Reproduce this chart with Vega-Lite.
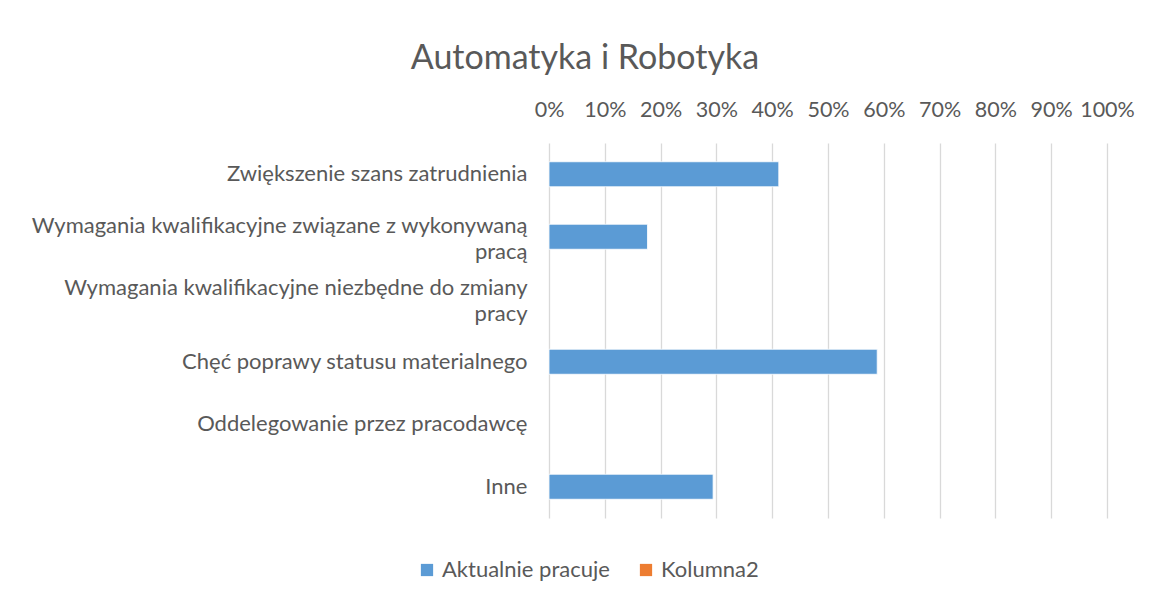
{
  "$schema": "https://vega.github.io/schema/vega-lite/v6.json",
  "autosize": {"type": "none"},
  "padding": {"left": 549, "top": 143, "right": 42, "bottom": 83},
  "width": 558,
  "height": 375,
  "background": "white",
  "title": {
    "text": "Automatyka i Robotyka",
    "font": "Lato",
    "fontSize": 34,
    "fontWeight": "normal",
    "color": "#595959",
    "anchor": "middle",
    "dx": -243,
    "offset": 23
  },
  "data": {
    "values": [
      {"category": "Zwiększenie szans zatrudnienia", "series": "Aktualnie pracuje", "value": 0.4118},
      {"category": "Wymagania kwalifikacyjne związane z wykonywaną pracą", "series": "Aktualnie pracuje", "value": 0.1765},
      {"category": "Wymagania kwalifikacyjne niezbędne do zmiany pracy", "series": "Aktualnie pracuje", "value": null},
      {"category": "Chęć poprawy statusu materialnego", "series": "Aktualnie pracuje", "value": 0.5882},
      {"category": "Oddelegowanie przez pracodawcę", "series": "Aktualnie pracuje", "value": null},
      {"category": "Inne", "series": "Aktualnie pracuje", "value": 0.2941}
    ]
  },
  "mark": {"type": "bar", "size": 25, "stroke": "white", "strokeWidth": 0.8},
  "encoding": {
    "y": {
      "field": "category",
      "type": "nominal",
      "sort": null,
      "scale": {
        "domain": [
          "Zwiększenie szans zatrudnienia",
          "Wymagania kwalifikacyjne związane z wykonywaną pracą",
          "Wymagania kwalifikacyjne niezbędne do zmiany pracy",
          "Chęć poprawy statusu materialnego",
          "Oddelegowanie przez pracodawcę",
          "Inne"
        ],
        "paddingInner": 0,
        "paddingOuter": 0
      },
      "axis": {
        "title": null,
        "domain": false,
        "ticks": false,
        "labelFont": "Lato",
        "labelFontSize": 22,
        "labelColor": "#595959",
        "labelPadding": 22,
        "labelLimit": 600,
        "labelLineHeight": 26,
        "labelOffset": {"condition": {"test": "indexof(datum.value, 'Wymagania') == 0", "value": -11}, "value": 0},
        "labelExpr": "datum.label == 'Wymagania kwalifikacyjne związane z wykonywaną pracą' ? ['Wymagania kwalifikacyjne związane z wykonywaną', 'pracą'] : datum.label == 'Wymagania kwalifikacyjne niezbędne do zmiany pracy' ? ['Wymagania kwalifikacyjne niezbędne do zmiany', 'pracy'] : datum.label"
      }
    },
    "x": {
      "field": "value",
      "type": "quantitative",
      "scale": {"domain": [0, 1]},
      "axis": {
        "orient": "top",
        "title": null,
        "format": "%",
        "values": [0, 0.1, 0.2, 0.3, 0.4, 0.5, 0.6, 0.7, 0.8, 0.9, 1],
        "domain": false,
        "ticks": false,
        "grid": true,
        "gridColor": "#D9D9D9",
        "gridWidth": 1.3,
        "labelFont": "Lato",
        "labelFontSize": 21.5,
        "labelColor": "#595959",
        "labelPadding": 22,
        "labelFlush": false
      }
    },
    "color": {
      "field": "series",
      "type": "nominal",
      "scale": {"domain": ["Aktualnie pracuje", "Kolumna2"], "range": ["#5B9BD5", "#ED7D31"]},
      "legend": {
        "title": null,
        "orient": "none",
        "direction": "horizontal",
        "legendX": -133,
        "legendY": 416,
        "symbolType": "square",
        "symbolSize": 150,
        "symbolStrokeWidth": 0,
        "labelFont": "Lato",
        "labelFontSize": 22,
        "labelColor": "#595959",
        "labelLimit": 400,
        "columnPadding": 25
      }
    }
  },
  "config": {"view": {"stroke": null}}
}
